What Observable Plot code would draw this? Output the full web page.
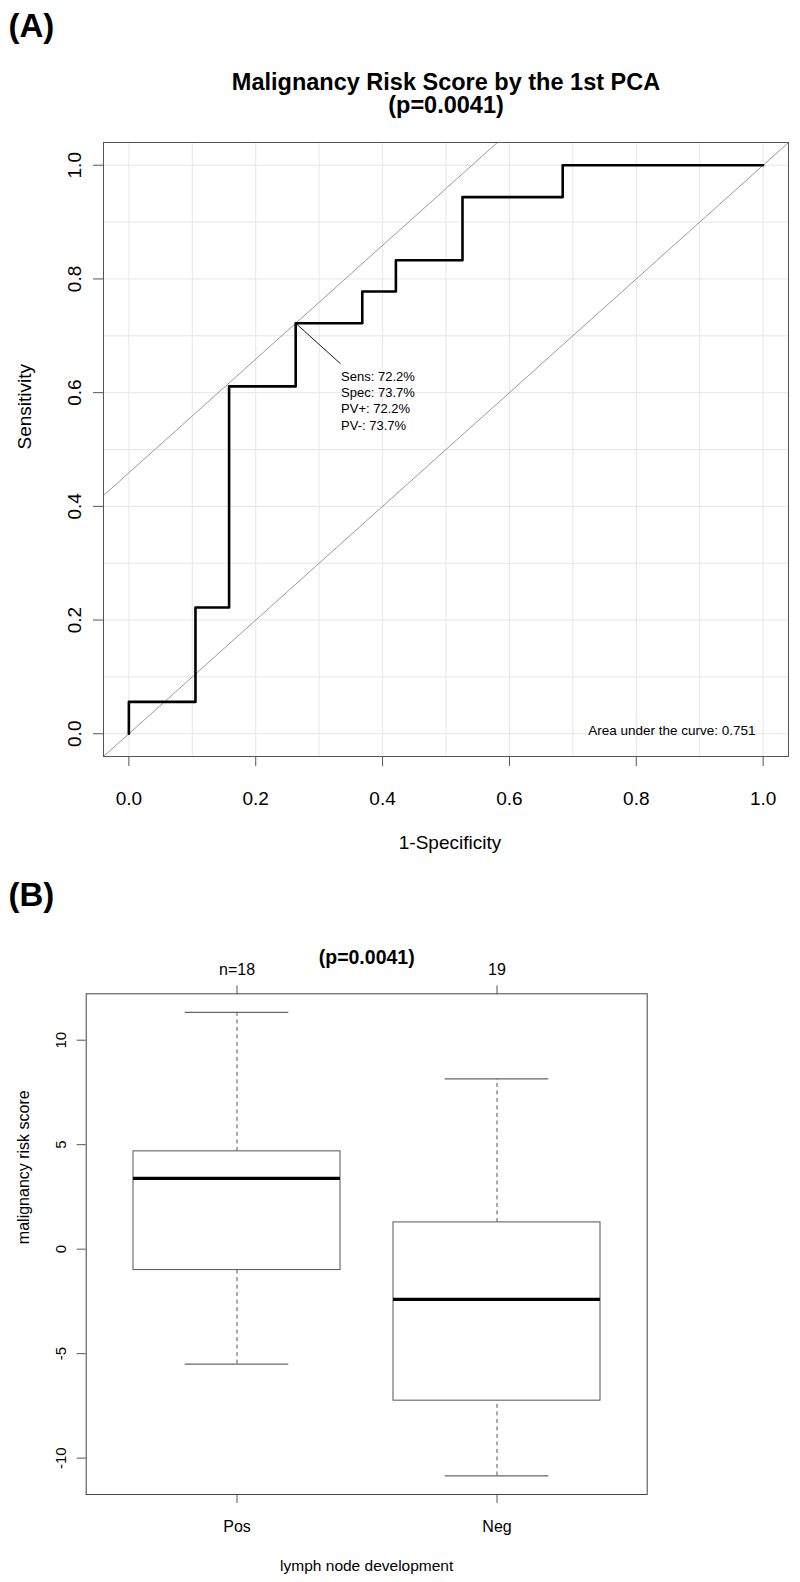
<!DOCTYPE html>
<html>
<head>
<meta charset="utf-8">
<script src="https://cdn.jsdelivr.net/npm/d3@7"></script>
<script src="https://cdn.jsdelivr.net/npm/@observablehq/plot@0.6"></script>
<style>
  body { margin: 0; background: #fff; }
  #a, #b { display: block; width: 800px; }
  svg { display: block; }
</style>
</head>
<body>
<div id="a"></div>
<div id="b"></div>
<script>
// ---------- Panel A: ROC curve ----------
const fpr = [0, 0, 0.105, 0.105, 0.158, 0.158, 0.263, 0.263, 0.368, 0.368, 0.421, 0.421, 0.526, 0.526, 0.684, 0.684, 1.0];
const tpr = [0, 0.056, 0.056, 0.222, 0.222, 0.611, 0.611, 0.722, 0.722, 0.778, 0.778, 0.833, 0.833, 0.944, 0.944, 1.0, 1.0];
const optimal = {fpr: 0.263, tpr: 0.722};
const optimalLines = ["Sens: 72.2%", "Spec: 73.7%", "PV+: 72.2%", "PV-: 73.7%"];
const aucLabel = "Area under the curve: 0.751";
const rocTicks = [0, 0.2, 0.4, 0.6, 0.8, 1.0];
const rocGrid = [0, 0.1, 0.2, 0.3, 0.4, 0.5, 0.6, 0.7, 0.8, 0.9, 1.0];
const titleA = ["Malignancy Risk Score by the 1st PCA", "(p=0.0041)"];
const xLabelA = "1-Specificity";
const yLabelA = "Sensitivity";

// ---------- Panel B: boxplot ----------
const groups = ["Pos", "Neg"];
const groupCounts = ["n=18", "19"];
const lowerWhisker = [-5.5, -10.85];
const q1 = [-1.0, -7.25];
const median = [3.39, -2.4];
const q3 = [4.68, 1.28];
const upperWhisker = [11.33, 8.15];
const scoreTicks = [-10, -5, 0, 5, 10];
const titleB = "(p=0.0041)";
const xLabelB = "lymph node development";
const yLabelB = "malignancy risk score";

const font = "'Liberation Sans', Arial, Helvetica, sans-serif";

// ----- Panel A -----
const roc = fpr.map((x, i) => ({x, y: tpr[i]}));
const domA = [-0.04, 1.04];
const intercept = optimal.tpr - optimal.fpr;
const refLines = [
  {x1: domA[0], y1: domA[0], x2: domA[1], y2: domA[1]},
  {x1: domA[0], y1: domA[0] + intercept, x2: domA[1], y2: domA[1] + intercept}
];

const pointer = (index, scales) => {
  const x0 = scales.x(optimal.fpr), y0 = scales.y(optimal.tpr);
  const ln = document.createElementNS("http://www.w3.org/2000/svg", "line");
  ln.setAttribute("x1", x0);
  ln.setAttribute("y1", y0);
  ln.setAttribute("x2", x0 + 45.4);
  ln.setAttribute("y2", y0 + 41);
  ln.setAttribute("stroke", "#000");
  ln.setAttribute("stroke-width", 0.9);
  return ln;
};

const plotA = Plot.plot({
  width: 800,
  height: 870,
  marginLeft: 103,
  marginRight: 12,
  marginTop: 142,
  marginBottom: 114,
  x: {domain: domA},
  y: {domain: domA},
  style: {fontFamily: font, background: "white", overflow: "visible", color: "#000"},
  marks: [
    Plot.gridX({ticks: rocGrid, stroke: "#e6e6e6", strokeOpacity: 1}),
    Plot.gridY({ticks: rocGrid, stroke: "#e6e6e6", strokeOpacity: 1}),
    Plot.link(refLines, {x1: "x1", y1: "y1", x2: "x2", y2: "y2", stroke: "#999", strokeWidth: 1, clip: true}),
    Plot.line(roc, {x: "x", y: "y", stroke: "#000", strokeWidth: 2.6}),
    pointer,
    Plot.text([optimalLines.join("\n")], {
      x: () => optimal.fpr, y: () => optimal.tpr, text: d => d,
      dx: 45.4, dy: 46, textAnchor: "start", lineAnchor: "top", lineHeight: 1.25, fontSize: 13
    }),
    Plot.text([aucLabel], {text: d => d, frameAnchor: "bottom-right", textAnchor: "end", lineAnchor: "bottom", fontSize: 13.5, dx: -33, dy: -22}),
    Plot.frame({stroke: "#555"}),
    Plot.axisX({ticks: rocTicks, tickSize: 10, tickPadding: 24.5, fontSize: 19, tickFormat: d => d.toFixed(1), label: null, stroke: "#555"}),
    Plot.axisY({ticks: rocTicks, tickSize: 10, tickRotate: -90, tickPadding: 13, fontSize: 19, tickFormat: d => d.toFixed(1), label: null, stroke: "#555"}),
    Plot.text([xLabelA], {text: d => d, frameAnchor: "bottom", lineAnchor: "bottom", fontSize: 19, dx: 4, dy: 92}),
    Plot.text([yLabelA], {text: d => d, frameAnchor: "left", lineAnchor: "bottom", rotate: -90, fontSize: 19, dx: -72.5}),
    Plot.text([titleA.join("\n")], {text: d => d, frameAnchor: "top", lineAnchor: "bottom", fontSize: 23.5, fontWeight: "bold", lineHeight: 1.0, dy: -29.5}),
    Plot.text(["(A)"], {text: d => d, frameAnchor: "top-left", textAnchor: "start", lineAnchor: "bottom", fontSize: 33, fontWeight: "bold", dx: -95, dy: -106})
  ]
});
document.getElementById("a").appendChild(plotA);

// ----- Panel B -----
const boxes = groups.map((g, i) => ({
  group: g, lo: lowerWhisker[i], q1: q1[i], med: median[i], q3: q3[i], hi: upperWhisker[i]
}));
const capInset = 51.7;

const plotB = Plot.plot({
  width: 800,
  height: 712,
  marginLeft: 85.7,
  marginRight: 153.3,
  marginTop: 123.3,
  marginBottom: 88,
  x: {type: "band", domain: groups, paddingInner: 0.205, paddingOuter: 0.18},
  y: {domain: [-11.74, 12.22]},
  style: {fontFamily: font, background: "white", overflow: "visible", color: "#000"},
  marks: [
    Plot.ruleX(boxes, {x: "group", y1: "q3", y2: "hi", stroke: "#555", strokeDasharray: "4,3.5"}),
    Plot.ruleX(boxes, {x: "group", y1: "lo", y2: "q1", stroke: "#555", strokeDasharray: "4,3.5"}),
    Plot.tickY(boxes, {x: "group", y: "hi", stroke: "#666", strokeWidth: 1.2, insetLeft: capInset, insetRight: capInset}),
    Plot.tickY(boxes, {x: "group", y: "lo", stroke: "#666", strokeWidth: 1.2, insetLeft: capInset, insetRight: capInset}),
    Plot.barY(boxes, {x: "group", y1: "q1", y2: "q3", fill: "white", stroke: "#555", strokeWidth: 1}),
    Plot.tickY(boxes, {x: "group", y: "med", stroke: "#000", strokeWidth: 3.2}),
    Plot.frame({stroke: "#444"}),
    Plot.axisY({ticks: scoreTicks, tickSize: 9, tickRotate: -90, tickPadding: 11, fontSize: 15, label: null, stroke: "#555",
      tickFormat: d => String(d)}),
    Plot.axisX({anchor: "bottom", tickSize: 9, tickPadding: 17.6, fontSize: 16, label: null, stroke: "#555"}),
    Plot.axisX({anchor: "top", tickSize: 9, tickPadding: 10.3, fontSize: 16, label: null, stroke: "#555",
      tickFormat: g => groupCounts[groups.indexOf(g)]}),
    Plot.text([titleB], {text: d => d, frameAnchor: "top", lineAnchor: "bottom", fontSize: 19.5, fontWeight: "bold", dy: -30.3}),
    Plot.text([xLabelB], {text: d => d, frameAnchor: "bottom", lineAnchor: "bottom", fontSize: 15.5, dy: 76}),
    Plot.text([yLabelB], {text: d => d, frameAnchor: "left", lineAnchor: "bottom", rotate: -90, fontSize: 16, dx: -57}),
    Plot.text(["(B)"], {text: d => d, frameAnchor: "top-left", textAnchor: "start", lineAnchor: "bottom", fontSize: 33, fontWeight: "bold", dx: -77.7, dy: -87.5})
  ]
});
document.getElementById("b").appendChild(plotB);
</script>
</body>
</html>
